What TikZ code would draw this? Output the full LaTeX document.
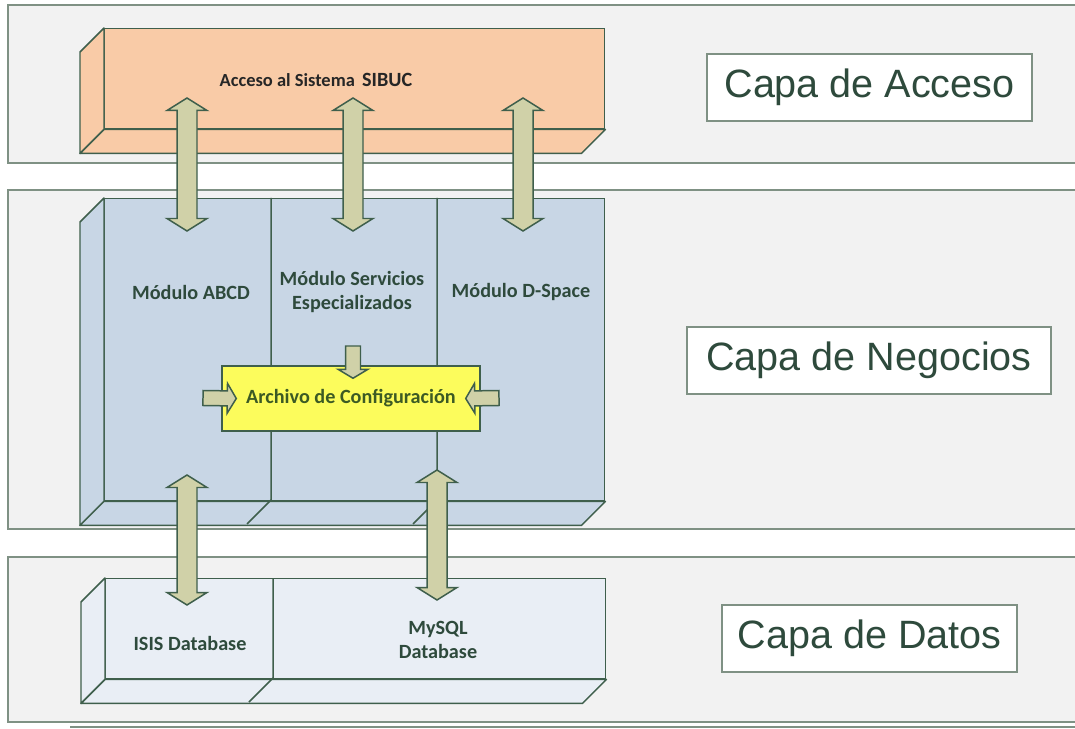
\documentclass[tikz,border=0pt]{standalone}
\usepackage{fontspec}
\setmainfont{Carlito}
\newfontfamily\arialfont{Liberation Sans}
\usetikzlibrary{calc,positioning}

\definecolor{bandfill}{HTML}{F2F2F2}
\definecolor{bandline}{HTML}{7F9184}
\definecolor{boxline}{HTML}{3F5F4C}
\definecolor{accfill}{HTML}{F9CBA7}
\definecolor{negfill}{HTML}{C8D6E5}
\definecolor{datfill}{HTML}{E9EEF5}
\definecolor{cfgfill}{HTML}{FCFC5C}
\definecolor{arrfill}{HTML}{D0D1A8}
\definecolor{txtgreen}{HTML}{2E4A3C}
\definecolor{cfgtext}{HTML}{3C5A24}

\tikzset{
    band/.style={fill=bandfill, draw=bandline, line width=0.9pt},
    front/.style={draw=boxline, line width=0.85pt, inner sep=0pt, anchor=north west, minimum width=10cm},
    side/.style={draw=boxline, line width=0.85pt, line join=round},
    blockarrow/.style={fill=arrfill, draw=boxline, line width=0.85pt, line join=miter},
    modlabel/.style={font=\bfseries\fontsize{11.5}{14}\selectfont, text=txtgreen, align=center},
    capa/.style={draw=bandline, fill=white, line width=0.7pt, inner sep=0pt,
        font=\arialfont\fontsize{22.5}{27}\selectfont, text=txtgreen},
}

% side and bottom faces of a box
\newcommand{\caja}[2]{%
    \draw[side, fill=#2] (#1.north west) -- ++(-24,24) -- ($(#1.south west)+(-24,24)$) -- (#1.south west) -- cycle;
    \draw[side, fill=#2] (#1.south west) -- ++(-24,24) -- ($(#1.south east)+(-24,24)$) -- (#1.south east) -- cycle;}

% fat arrows
\newcommand{\dblarrow}[2]{%
    \coordinate (ha) at ($(#1)!0.25cm!(#2)$);
    \coordinate (hb) at ($(#2)!0.25cm!(#1)$);
    \draw[blockarrow] (#1) -- ($(ha)!0.4cm!90:(#2)$) -- ($(ha)!0.2cm!90:(#2)$) -- ($(hb)!0.2cm!-90:(#1)$)
        -- ($(hb)!0.4cm!-90:(#1)$) -- (#2) -- ($(hb)!0.4cm!90:(#1)$) -- ($(hb)!0.2cm!90:(#1)$)
        -- ($(ha)!0.2cm!-90:(#2)$) -- ($(ha)!0.4cm!-90:(#2)$) -- cycle;}
\newcommand{\sglarrow}[2]{%
    \coordinate (hb) at ($(#2)!0.18cm!(#1)$);
    \draw[blockarrow] ($(#1)!0.15cm!90:(#2)$) -- ($(hb)!0.15cm!90:(#2)$) -- ($(hb)!0.3cm!90:(#2)$) -- (#2)
        -- ($(hb)!0.3cm!-90:(#2)$) -- ($(hb)!0.15cm!-90:(#2)$) -- ($(#1)!0.15cm!-90:(#2)$) -- cycle;}

\begin{document}
\begin{tikzpicture}[x=0.02cm, y=-0.02cm]
    \useasboundingbox (0,0) rectangle (1075,729);
    \fill[white] (0,0) rectangle (1075,729);

    % layers
    \draw[band] (8,5) rectangle (1090,163);
    \draw[band] (8,190) rectangle (1090,529);
    \draw[band] (8,557) rectangle (1090,722);
    \draw[bandline, line width=0.6pt] (70,727) -- (1075,727);

    \node[capa, minimum width=6.5cm, minimum height=1.34cm] (capaacc) at (869.5,87.5) {Capa de Acceso};
    \node[capa, minimum width=7.28cm, minimum height=1.34cm] (capaneg) at (869,360.5) {Capa de Negocios};
    \node[capa, minimum width=5.9cm, minimum height=1.34cm] (capadat) at (869.5,638.5) {Capa de Datos};

    % boxes
    \node[front, fill=accfill, minimum height=2cm] (acceso) at (104,28) {};
    \caja{acceso}{accfill}
    \node[front, fill=negfill, minimum height=6.04cm] (negocio) at (104,198) {};
    \caja{negocio}{negfill}
    \node[front, fill=datfill, minimum height=2cm] (datos) at (105,578) {};
    \caja{datos}{datfill}

    \foreach \x in {271, 437} {
        \draw[side] (\x,198) -- (\x,500) -- (\x-24,524);
    }
    \draw[side] (273,578) -- (273,678) -- (249,702);

    \node[draw=boxline, fill=cfgfill, line width=0.85pt, minimum width=5.16cm, minimum height=1.3cm,
        font=\bfseries\fontsize{11.5}{14}\selectfont, text=cfgtext] (config) at (351,398.5) {Archivo de Configuración};

    % labels
    \node[font=\bfseries\fontsize{10.5}{12}\selectfont, text=black!85] (sibuc) at (316,80)
        {Acceso al Sistema \,{\fontsize{11.5}{13}\selectfont SIBUC}};
    \node[modlabel] (abcd) at (191,292) {Módulo ABCD};
    \node[modlabel] (servicios) at (352,292) {Módulo Servicios\\Especializados};
    \node[modlabel] (dspace) at (521,292) {Módulo D-Space};
    \node[modlabel] (isis) at (190,643) {ISIS Database};
    \node[modlabel, font=\bfseries\fontsize{11.5}{13.6}\selectfont] (mysql) at (438,640) {MySQL\\Database};

    % arrows between layers
    \foreach \x/\n in {187/1, 353/2, 523/3} {
        \coordinate (sup\n) at (\x,98);
        \coordinate (mid\n) at (\x,231);
        \dblarrow{sup\n}{mid\n}
    }
    \coordinate (isisup) at (187,475);
    \coordinate (isisdn) at (187,605);
    \dblarrow{isisup}{isisdn}
    \coordinate (sqlup) at (437,470);
    \coordinate (sqldn) at (437,600);
    \dblarrow{sqlup}{sqldn}

    % arrows into the configuration file
    \coordinate (cfgn) at (353,346);
    \coordinate (cfgw) at (203,398);
    \coordinate (cfge) at (499,398);
    \sglarrow{cfgn}{$(config.north)+(2,13)$}
    \sglarrow{cfgw}{$(config.west)+(15,0)$}
    \sglarrow{cfge}{$(config.east)+(-15,0)$}
\end{tikzpicture}
\end{document}
